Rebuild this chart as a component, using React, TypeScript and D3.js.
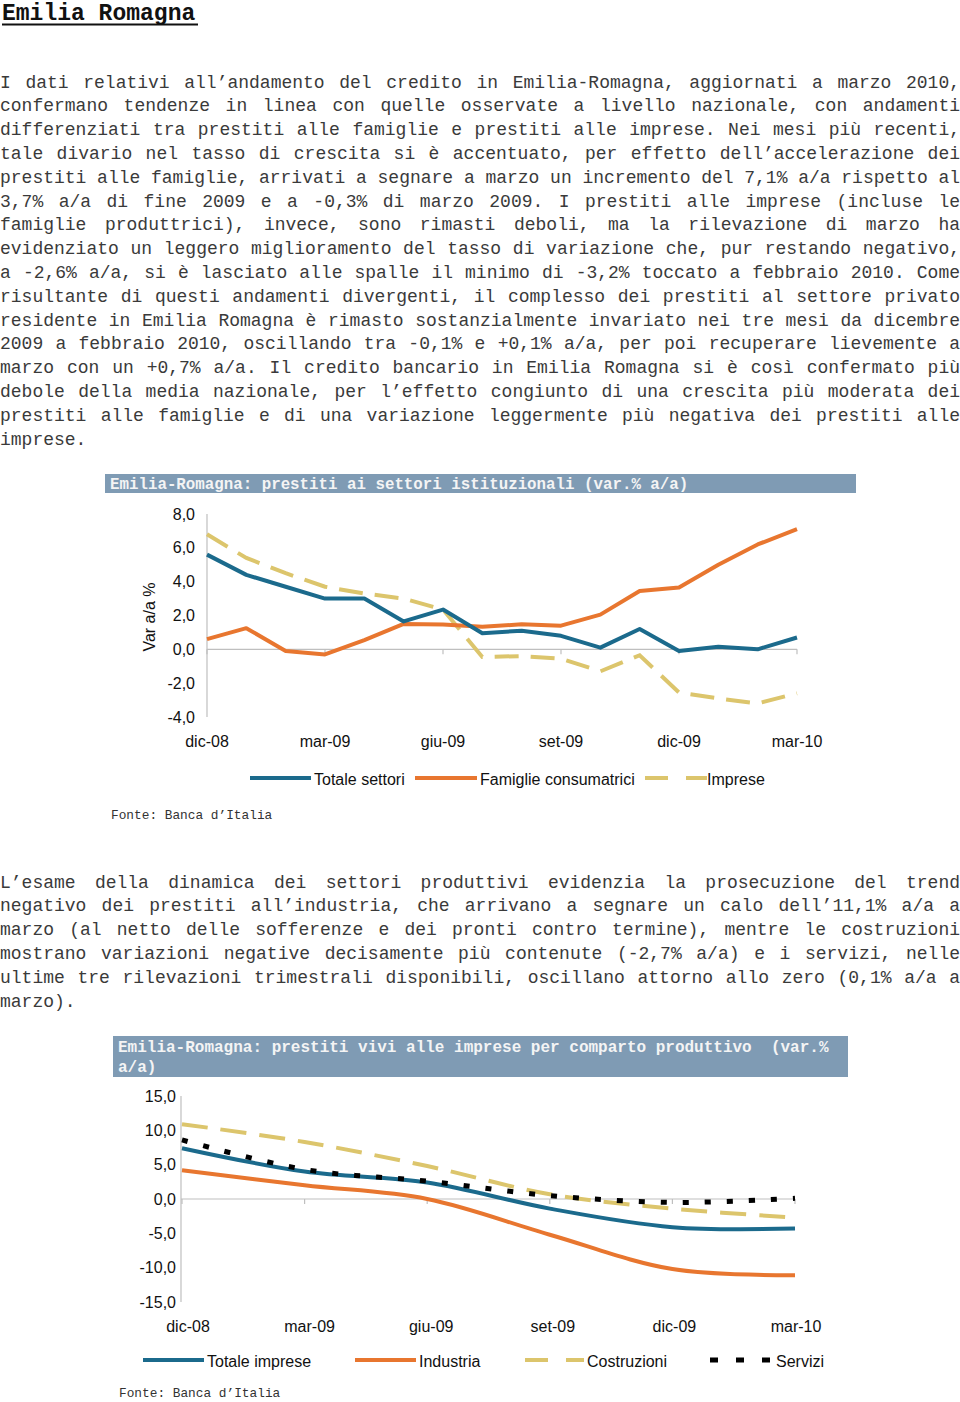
import React from 'react';
import * as d3 from 'd3';

const heading = 'Emilia Romagna';

const para1 = [
  'I dati relativi all’andamento del credito in Emilia-Romagna, aggiornati a marzo 2010,',
  'confermano tendenze in linea con quelle osservate a livello nazionale, con andamenti',
  'differenziati tra prestiti alle famiglie e prestiti alle imprese. Nei mesi più recenti,',
  'tale divario nel tasso di crescita si è accentuato, per effetto dell’accelerazione dei',
  'prestiti alle famiglie, arrivati a segnare a marzo un incremento del 7,1% a/a rispetto al',
  '3,7% a/a di fine 2009 e a -0,3% di marzo 2009. I prestiti alle imprese (incluse le',
  'famiglie produttrici), invece, sono rimasti deboli, ma la rilevazione di marzo ha',
  'evidenziato un leggero miglioramento del tasso di variazione che, pur restando negativo,',
  'a -2,6% a/a, si è lasciato alle spalle il minimo di -3,2% toccato a febbraio 2010. Come',
  'risultante di questi andamenti divergenti, il complesso dei prestiti al settore privato',
  'residente in Emilia Romagna è rimasto sostanzialmente invariato nei tre mesi da dicembre',
  '2009 a febbraio 2010, oscillando tra -0,1% e +0,1% a/a, per poi recuperare lievemente a',
  'marzo con un +0,7% a/a. Il credito bancario in Emilia Romagna si è così confermato più',
  'debole della media nazionale, per l’effetto congiunto di una crescita più moderata dei',
  'prestiti alle famiglie e di una variazione leggermente più negativa dei prestiti alle',
  'imprese.',
];

const para2 = [
  'L’esame della dinamica dei settori produttivi evidenzia la prosecuzione del trend',
  'negativo dei prestiti all’industria, che arrivano a segnare un calo dell’11,1% a/a a',
  'marzo (al netto delle sofferenze e dei pronti contro termine), mentre le costruzioni',
  'mostrano variazioni negative decisamente più contenute (-2,7% a/a) e i servizi, nelle',
  'ultime tre rilevazioni trimestrali disponibili, oscillano attorno allo zero (0,1% a/a a',
  'marzo).',
];

// Chart 1: monthly
const title1 = 'Emilia-Romagna: prestiti ai settori istituzionali (var.% a/a)';
const months1 = ['dic-08', 'gen-09', 'feb-09', 'mar-09', 'apr-09', 'mag-09', 'giu-09', 'lug-09', 'ago-09', 'set-09', 'ott-09', 'nov-09', 'dic-09', 'gen-10', 'feb-10', 'mar-10'];
const tickLabels1 = ['dic-08', 'mar-09', 'giu-09', 'set-09', 'dic-09', 'mar-10'];
const totaleSettori = [5.6, 4.4, 3.7, 3.0, 3.0, 1.65, 2.35, 0.95, 1.1, 0.8, 0.1, 1.2, -0.1, 0.15, 0.0, 0.7];
const famiglieConsumatrici = [0.6, 1.25, -0.1, -0.3, 0.55, 1.5, 1.47, 1.33, 1.48, 1.4, 2.05, 3.45, 3.65, 5.0, 6.2, 7.1];
const impreseSerie = [6.8, 5.4, 4.5, 3.7, 3.3, 3.0, 2.35, -0.45, -0.4, -0.55, -1.3, -0.35, -2.55, -2.9, -3.2, -2.6];
const yTicks1 = [8, 6, 4, 2, 0, -2, -4];
const legend1 = ['Totale settori', 'Famiglie consumatrici', 'Imprese'];

// Chart 2: quarterly
const title2a = 'Emilia-Romagna: prestiti vivi alle imprese per comparto produttivo  (var.%';
const title2b = 'a/a)';
const quarters2 = ['dic-08', 'mar-09', 'giu-09', 'set-09', 'dic-09', 'mar-10'];
const totaleImprese = [7.4, 4.0, 2.4, -1.4, -4.1, -4.3];
const industria = [4.2, 2.0, 0.0, -5.2, -10.2, -11.1];
const costruzioni = [10.9, 8.3, 4.8, 0.7, -1.4, -2.7];
const servizi = [8.6, 4.3, 2.6, 0.5, -0.5, 0.1];
const yTicks2 = [15, 10, 5, 0, -5, -10, -15];
const legend2 = ['Totale imprese', 'Industria', 'Costruzioni', 'Servizi'];

const fonte = 'Fonte: Banca d’Italia';

const BLUE = '#1b6a8c';
const ORANGE = '#e8762f';
const YELLOW = '#dcc56c';
const BAR = '#7f9bb4';
const AXIS = '#bfbfbf';
const MONO = '"Liberation Mono", "Courier New", monospace';
const SANS = '"Liberation Sans", Arial, sans-serif';

const fmt = (v: number) => d3.format('.1f')(v).replace('.', ',').replace('−', '-');

function JLine({ text, y, justify }: { text: string; y: number; justify: boolean }) {
  const cw = 10.8;
  const left = 0;
  const right = 960;
  const words = text.split(' ');
  const total = words.reduce((s, w) => s + w.length, 0);
  const gap = justify && words.length > 1 ? (right - left - total * cw) / (words.length - 1) : cw;
  let x = left;
  return (
    <text y={y} fontFamily={MONO} fontSize={18} fill="#3a3a3a">
      {words.map((w, i) => {
        const el = (
          <tspan key={i} x={x}>
            {w}
          </tspan>
        );
        x += w.length * cw + gap;
        return el;
      })}
    </text>
  );
}

function Paragraph({ lines, y0 }: { lines: string[]; y0: number }) {
  return (
    <g>
      {lines.map((l, i) => (
        <JLine key={i} text={l} y={y0 + i * 23.8} justify={i < lines.length - 1} />
      ))}
    </g>
  );
}

function Chart1() {
  const x = d3.scalePoint<string>().domain(months1).range([207, 797]);
  const y = d3.scaleLinear().domain([-4, 8]).range([717, 514]);
  const line = d3
    .line<number>()
    .x((_, i) => x(months1[i]) as number)
    .y((d) => y(d));
  return (
    <g>
      <rect x={105} y={474} width={751} height={19} fill={BAR} />
      <text x={110} y={489} fontFamily={MONO} fontWeight="bold" fontSize={15.8} fill="#f4f4f4">
        {title1}
      </text>
      <line x1={207} x2={207} y1={y(8)} y2={y(-4)} stroke={AXIS} strokeWidth={1.2} />
      <line x1={207} x2={797} y1={y(0)} y2={y(0)} stroke={AXIS} strokeWidth={1.2} />
      {tickLabels1.map((t) => (
        <line key={t} x1={x(t)} x2={x(t)} y1={y(0)} y2={y(0) + 5} stroke={AXIS} strokeWidth={1.2} />
      ))}
      {yTicks1.map((t) => (
        <text key={t} x={195} y={y(t)} dy="0.35em" textAnchor="end" fontFamily={SANS} fontSize={16} fill="#111">
          {fmt(t)}
        </text>
      ))}
      {tickLabels1.map((t) => (
        <text key={t} x={x(t)} y={747} textAnchor="middle" fontFamily={SANS} fontSize={16} fill="#111">
          {t}
        </text>
      ))}
      <text transform="translate(155,617) rotate(-90)" textAnchor="middle" fontFamily={SANS} fontSize={16} fill="#111">
        Var a/a %
      </text>
      <path d={line(impreseSerie) || ''} fill="none" stroke={YELLOW} strokeWidth={4} strokeDasharray="24,12" />
      <path d={line(famiglieConsumatrici) || ''} fill="none" stroke={ORANGE} strokeWidth={4} strokeLinejoin="round" />
      <path d={line(totaleSettori) || ''} fill="none" stroke={BLUE} strokeWidth={4} strokeLinejoin="round" />
      <line x1={250} x2={311} y1={778} y2={778} stroke={BLUE} strokeWidth={4} />
      <text x={314} y={785} fontFamily={SANS} fontSize={16} fill="#111">
        {legend1[0]}
      </text>
      <line x1={415} x2={477} y1={778} y2={778} stroke={ORANGE} strokeWidth={4} />
      <text x={480} y={785} fontFamily={SANS} fontSize={16} fill="#111">
        {legend1[1]}
      </text>
      <line x1={645} x2={707} y1={778} y2={778} stroke={YELLOW} strokeWidth={4} strokeDasharray="23,18" />
      <text x={707} y={785} fontFamily={SANS} fontSize={16} fill="#111">
        {legend1[2]}
      </text>
      <text x={111} y={819} fontFamily={MONO} fontSize={12.8} fill="#333">
        {fonte}
      </text>
    </g>
  );
}

function Chart2() {
  const x = d3.scalePoint<string>().domain(quarters2).range([182, 795]);
  const y = d3.scaleLinear().domain([-15, 15]).range([1302, 1096]);
  const line = d3
    .line<number>()
    .x((_, i) => x(quarters2[i]) as number)
    .y((d) => y(d))
    .curve(d3.curveCatmullRom.alpha(0.5));
  const labelX = d3.scalePoint<string>().domain(quarters2).range([188, 796]);
  return (
    <g>
      <rect x={113} y={1036} width={735} height={41} fill={BAR} />
      <text x={118} y={1052} fontFamily={MONO} fontWeight="bold" fontSize={16} fill="#f4f4f4" style={{ whiteSpace: 'pre' }}>
        {title2a}
      </text>
      <text x={118} y={1072} fontFamily={MONO} fontWeight="bold" fontSize={16} fill="#f4f4f4">
        {title2b}
      </text>
      <line x1={181} x2={181} y1={y(15)} y2={y(-15)} stroke={AXIS} strokeWidth={1.2} />
      <line x1={181} x2={795} y1={y(0)} y2={y(0)} stroke={AXIS} strokeWidth={1.2} />
      {quarters2.map((t) => (
        <line key={t} x1={x(t)} x2={x(t)} y1={y(0)} y2={y(0) + 5} stroke={AXIS} strokeWidth={1.2} />
      ))}
      {yTicks2.map((t) => (
        <text key={t} x={176} y={y(t)} dy="0.35em" textAnchor="end" fontFamily={SANS} fontSize={16} fill="#111">
          {fmt(t)}
        </text>
      ))}
      {quarters2.map((t) => (
        <text key={t} x={labelX(t)} y={1332} textAnchor="middle" fontFamily={SANS} fontSize={16} fill="#111">
          {t}
        </text>
      ))}
      <path d={line(industria) || ''} fill="none" stroke={ORANGE} strokeWidth={4} />
      <path d={line(totaleImprese) || ''} fill="none" stroke={BLUE} strokeWidth={4} />
      <path d={line(costruzioni) || ''} fill="none" stroke={YELLOW} strokeWidth={4} strokeDasharray="26,13" />
      <path d={line(servizi) || ''} fill="none" stroke="#000" strokeWidth={5} strokeDasharray="6,16" />
      <line x1={143} x2={204} y1={1360} y2={1360} stroke={BLUE} strokeWidth={4} />
      <text x={207} y={1367} fontFamily={SANS} fontSize={16} fill="#111">
        {legend2[0]}
      </text>
      <line x1={355} x2={416} y1={1360} y2={1360} stroke={ORANGE} strokeWidth={4} />
      <text x={419} y={1367} fontFamily={SANS} fontSize={16} fill="#111">
        {legend2[1]}
      </text>
      <line x1={525} x2={584} y1={1360} y2={1360} stroke={YELLOW} strokeWidth={4} strokeDasharray="23,18" />
      <text x={587} y={1367} fontFamily={SANS} fontSize={16} fill="#111">
        {legend2[2]}
      </text>
      <line x1={710} x2={770} y1={1360} y2={1360} stroke="#000" strokeWidth={5} strokeDasharray="8,18" />
      <text x={776} y={1367} fontFamily={SANS} fontSize={16} fill="#111">
        {legend2[3]}
      </text>
      <text x={119} y={1397} fontFamily={MONO} fontSize={12.8} fill="#333">
        {fonte}
      </text>
    </g>
  );
}

export default function App() {
  return (
    <svg
      width={960}
      height={1402}
      style={{ position: 'absolute', left: 0, top: 0, background: '#fff' }}
      xmlns="http://www.w3.org/2000/svg"
    >
      <rect x={0} y={0} width={960} height={1402} fill="#fff" />
      <text x={2} y={19.5} fontFamily={MONO} fontWeight="bold" fontSize={23} fill="#111">
        {heading}
      </text>
      <line x1={2} x2={198} y1={24.5} y2={24.5} stroke="#111" strokeWidth={2} />
      <Paragraph lines={para1} y0={87.5} />
      <Chart1 />
      <Paragraph lines={para2} y0={887.5} />
      <Chart2 />
    </svg>
  );
}
